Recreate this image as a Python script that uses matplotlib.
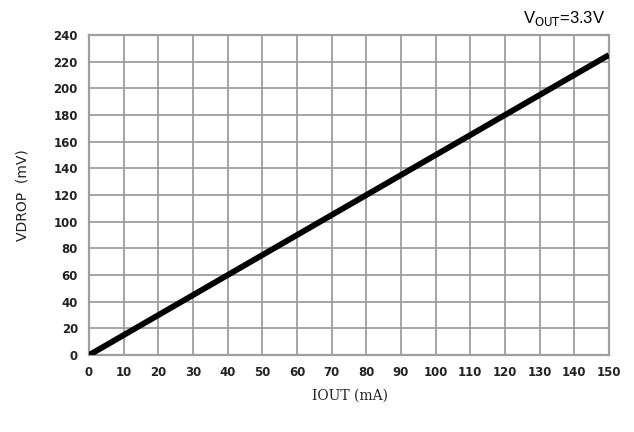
import matplotlib.pyplot as plt

# data
iout_ma = [0, 150]
vdrop_mv = [0, 225]
x_ticks = list(range(0, 151, 10))
y_ticks = list(range(0, 241, 20))

fig = plt.figure(figsize=(6.34, 4.32), dpi=100)
ax = fig.add_axes([0.1404, 0.178, 0.820, 0.741])

ax.plot(iout_ma, vdrop_mv, color='black', linewidth=4.2, solid_capstyle='butt', zorder=3)

ax.set_xlim(0, 150)
ax.set_ylim(0, 240)
ax.set_xticks(x_ticks)
ax.set_yticks(y_ticks)
ax.grid(True, color='#9e9e9e', linewidth=1.3)
for s in ax.spines.values():
    s.set_color('#9e9e9e')
    s.set_linewidth(1.6)
ax.tick_params(length=0, pad=8, labelsize=8.5, colors='#222222')
for lbl in ax.get_xticklabels() + ax.get_yticklabels():
    lbl.set_fontweight('bold')

fig.text(0.552, 0.085, 'IOUT (mA)', ha='center', va='center', fontsize=10,
         family='DejaVu Serif', color='#222222')
fig.text(0.035, 0.548, 'VDROP  (mV)', ha='center', va='center', fontsize=10,
         rotation=90, color='#222222')
fig.text(0.955, 0.958, r'V$_{\mathrm{OUT}}$=3.3V', ha='right', va='center', fontsize=12,
         family='Liberation Sans')

fig.savefig('out.png', dpi=100)
